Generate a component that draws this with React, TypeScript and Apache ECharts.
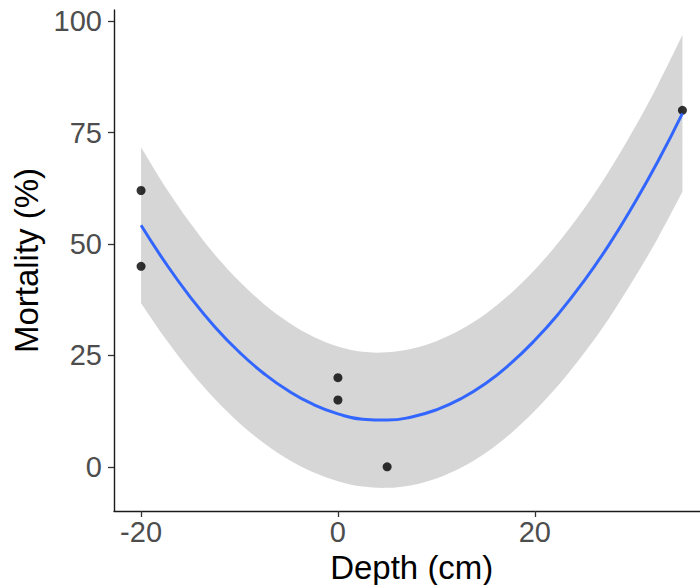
import React, { useEffect, useRef } from "react";
import * as echarts from "echarts";

// Observed points (Depth cm, Mortality %)
const depthPts = [-20, -20, 0, 0, 5, 35];
const mortalityPts = [62, 45, 20, 15, 0, 80];

// Fitted curve and confidence band
const curveX = [-20, -17.5, -15, -12.5, -10, -7.5, -5, -2.5, 0, 2.5, 5, 7.5, 10, 12.5, 15, 17.5, 20, 22.5, 25, 27.5, 30, 32.5, 35];
const fitY = [54.2, 45.7, 38.1, 31.4, 25.7, 20.9, 17.0, 14.0, 11.9, 10.7, 10.5, 11.2, 12.8, 15.3, 18.7, 23.1, 28.4, 34.6, 41.7, 49.7, 58.7, 68.5, 79.3];
const bandLower = [36.7, 28.7, 21.5, 15.2, 9.8, 5.3, 1.6, -1.2, -3.2, -4.4, -4.7, -4.1, -2.6, -0.2, 3.1, 7.4, 12.6, 18.6, 25.5, 33.2, 41.9, 51.3, 61.7];
const bandUpper = [71.7, 62.7, 54.7, 47.6, 41.6, 36.5, 32.4, 29.2, 27.0, 25.8, 25.7, 26.5, 28.2, 30.8, 34.3, 38.8, 44.2, 50.6, 57.9, 66.2, 75.5, 85.7, 96.9];

// Tick labels
const xTicks = [-20, 0, 20];
const yTicks = [0, 25, 50, 75, 100];

const FONT = "'Liberation Sans', Arial, Helvetica, sans-serif";

type Pt = number[];

// Smooth path through pixel points (Catmull-Rom as cubic Bezier)
function smoothSegments(pts: Pt[]): string {
  let d = "";
  for (let i = 0; i < pts.length - 1; i++) {
    const p0 = pts[Math.max(0, i - 1)];
    const p1 = pts[i];
    const p2 = pts[i + 1];
    const p3 = pts[Math.min(pts.length - 1, i + 2)];
    const c1x = p1[0] + (p2[0] - p0[0]) / 6;
    const c1y = p1[1] + (p2[1] - p0[1]) / 6;
    const c2x = p2[0] - (p3[0] - p1[0]) / 6;
    const c2y = p2[1] - (p3[1] - p1[1]) / 6;
    d += ` C ${c1x} ${c1y} ${c2x} ${c2y} ${p2[0]} ${p2[1]}`;
  }
  return d;
}

export default function App() {
  const ref = useRef<HTMLDivElement>(null);

  useEffect(() => {
    if (!ref.current) return;
    const chart = echarts.init(ref.current, null, { renderer: "svg" });

    const axisCommon = {
      type: "value" as const,
      splitLine: { show: false },
      axisLine: { show: true, onZero: false, lineStyle: { color: "#1a1a1a", width: 1.4 } },
      axisTick: { show: true, length: 6, lineStyle: { color: "#333333", width: 1.3 } },
      nameTextStyle: { color: "#000000", fontSize: 33, fontFamily: FONT },
    };

    const bandData = curveX.map((x, i) => [x, bandLower[i], bandUpper[i]]);

    chart.setOption({
      animation: false,
      backgroundColor: "#ffffff",
      grid: {
        left: 114,
        right: -9.5,
        top: 10,
        bottom: 74,
        containLabel: false,
        outerBoundsMode: "none",
      },
      xAxis: {
        ...axisCommon,
        min: -22.75,
        max: 37.75,
        name: "Depth (cm)",
        nameLocation: "middle",
        nameGap: 39,
        axisTick: { ...axisCommon.axisTick, customValues: xTicks },
        axisLabel: {
          customValues: xTicks,
          color: "#4d4d4d",
          fontSize: 29,
          fontFamily: FONT,
          margin: 6,
        },
      },
      yAxis: {
        ...axisCommon,
        min: -9.9,
        max: 102.5,
        name: "Mortality (%)",
        nameLocation: "middle",
        nameGap: 64,
        axisTick: { ...axisCommon.axisTick, customValues: yTicks },
        axisLabel: {
          customValues: yTicks,
          color: "#4d4d4d",
          fontSize: 29,
          fontFamily: FONT,
          margin: 12,
        },
      },
      series: [
        {
          type: "scatter",
          data: depthPts.map((x, i) => [x, mortalityPts[i]]),
          symbolSize: 9,
          itemStyle: { color: "#000000" },
          silent: true,
        },
        {
          type: "custom",
          name: "band",
          data: bandData,
          encode: { x: 0, y: [1, 2] },
          silent: true,
          renderItem: (params: any, api: any) => {
            if (params.dataIndex !== 0) return null;
            const upper = bandData.map((r) => api.coord([r[0], r[2]]));
            const lower = bandData.map((r) => api.coord([r[0], r[1]])).reverse();
            let d = `M ${upper[0][0]} ${upper[0][1]}`;
            d += smoothSegments(upper);
            d += ` L ${lower[0][0]} ${lower[0][1]}`;
            d += smoothSegments(lower);
            d += " Z";
            return {
              type: "path",
              shape: { pathData: d },
              style: { fill: "rgba(153,153,153,0.4)", stroke: "none" },
            };
          },
        },
        {
          type: "line",
          name: "fit",
          data: curveX.map((x, i) => [x, fitY[i]]),
          smooth: true,
          symbol: "none",
          lineStyle: { color: "#3366FF", width: 3 },
          silent: true,
        },
      ],
    });

    return () => chart.dispose();
  }, []);

  return (
    <div
      ref={ref}
      style={{ position: "absolute", left: 0, top: 0, width: 700, height: 585 }}
    />
  );
}
